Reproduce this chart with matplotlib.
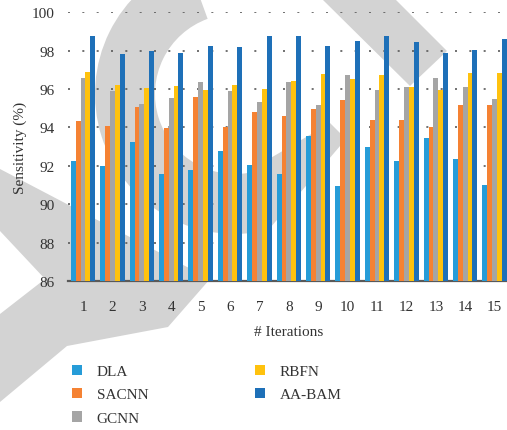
import numpy as np
import matplotlib.pyplot as plt
from matplotlib.patches import Polygon, Wedge
from matplotlib.transforms import Affine2D

iterations = [str(i) for i in range(1, 16)]
dla = [92.27, 91.97, 93.25, 91.56, 91.76, 92.79, 92.02, 91.56, 93.56, 90.95, 92.99, 92.27, 93.45, 92.38, 91.0]
sacnn = [94.32, 94.07, 95.04, 93.97, 95.57, 94.02, 94.79, 94.58, 94.94, 95.45, 94.38, 94.38, 94.02, 95.15, 95.15]
gcnn = [96.58, 95.91, 95.2, 95.56, 96.38, 95.91, 95.35, 96.38, 95.15, 96.74, 95.97, 96.12, 96.58, 96.12, 95.5]
rbfn = [96.89, 96.22, 96.07, 96.17, 95.97, 96.22, 96.02, 96.43, 96.79, 96.53, 96.74, 96.12, 95.97, 96.84, 96.84]
aabam = [98.74, 97.81, 98.0, 97.86, 98.22, 98.17, 98.74, 98.74, 98.22, 98.48, 98.74, 98.43, 97.86, 98.02, 98.63]

series = [('DLA', dla, '#269CD8'), ('SACNN', sacnn, '#F58233'), ('GCNN', gcnn, '#A5A5A5'),
          ('RBFN', rbfn, '#FFC20E'), ('AA-BAM', aabam, '#1E70B8')]

plt.rcParams['font.family'] = ['Liberation Serif', 'DejaVu Serif']

W, H = 507, 431
fig = plt.figure(figsize=(W / 100, H / 100), dpi=100)

# light grey background logo, drawn in pixels from the top-left corner
pix = Affine2D().scale(1 / W, -1 / H).translate(0, 1) + fig.transFigure
grey = dict(facecolor='#D3D3D3', edgecolor='none', zorder=-5, transform=pix)

fig.patches.append(Wedge((235, 95), 140, 75, 250, width=60, **grey))
polys = [
    [(252, 170), (330, 124), (346, 140), (270, 229)],
    [(322, 0), (395, 0), (447, 52), (410, 87)],
    [(0, 170), (210, 280), (168, 328), (67, 347), (0, 403), (0, 315), (45, 280), (0, 232)],
]
for p in polys:
    fig.patches.append(Polygon(p, closed=True, **grey))

ax = fig.add_axes([68.3 / W, (H - 282) / H, 441 / W, 268.7 / H])
ax.patch.set_alpha(0)

x = np.arange(1, 16)
width = 0.165
for i, (name, vals, color) in enumerate(series):
    ax.bar(x + (i - 2) * width, np.array(vals) - 86, width, bottom=86,
           color=color, label=name, zorder=3)

ax.set_xlim(0.5, 15.5)
ax.set_ylim(86, 100)
ax.set_yticks(range(86, 101, 2))
ax.set_xticks(x)
ax.set_xticklabels(iterations)
ax.tick_params(axis='both', length=0, labelsize=11, colors='#333333')
ax.tick_params(axis='y', pad=10)
ax.tick_params(axis='x', pad=14)

for y in range(88, 101, 2):
    ax.axhline(y, color='#595959', lw=1.2, dashes=(1.2, 7.4), zorder=1)

for side in ['top', 'right', 'left']:
    ax.spines[side].set_visible(False)
ax.spines['bottom'].set_color('#595959')
ax.spines['bottom'].set_linewidth(1.6)
ax.spines['bottom'].set_zorder(2)

ax.set_ylabel('Sensitivity (%)', fontsize=11, color='#333333')
ax.yaxis.set_label_coords(-0.093, 0.5)
ax.set_xlabel('# Iterations', fontsize=11, color='#333333')
ax.xaxis.set_label_coords(0.5, -0.165)

fig.legend(loc='upper left', bbox_to_anchor=(64 / W, 1 - 358 / H), ncol=2, frameon=False,
           fontsize=11, handlelength=0.65, handleheight=0.65, handletextpad=1.0,
           labelspacing=0.65, columnspacing=6.95, borderpad=0, labelcolor='#333333')

fig.savefig('out.png', dpi=100)
